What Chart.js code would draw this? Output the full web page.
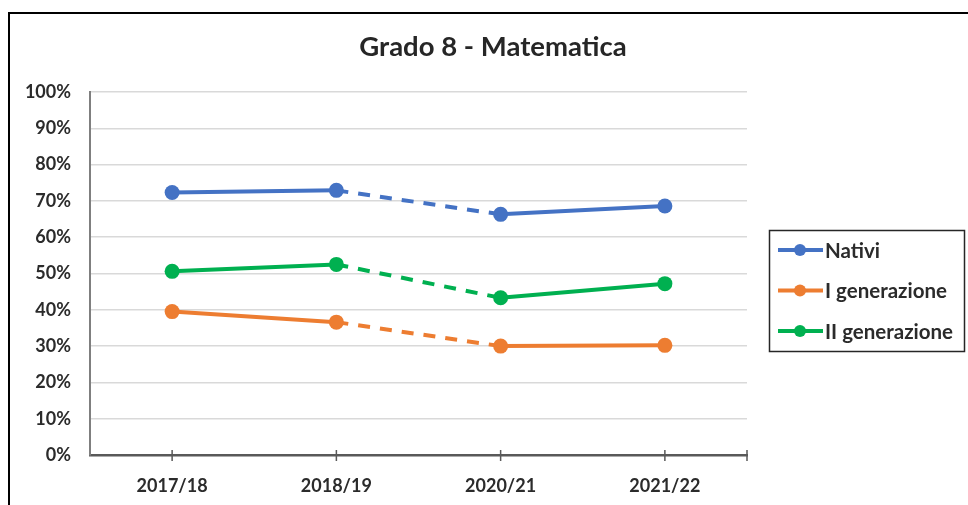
<!DOCTYPE html>
<html>
<head>
<meta charset="utf-8">
<script src="https://cdn.jsdelivr.net/npm/chart.js@4/dist/chart.umd.min.js"></script>
<style>
  body { margin: 0; background: #fff; }
  #wrap { width: 968px; height: 505px; position: relative; }
</style>
</head>
<body>
<div id="wrap"><canvas id="grado-chart"></canvas></div>
<script>
Chart.defaults.font.family = 'Lato, "Liberation Sans", sans-serif';
Chart.defaults.font.weight = 'bold';
Chart.defaults.color = '#333333';

const anni = ['2017/18', '2018/19', '2020/21', '2021/22'];
const nativi = [72.3, 72.9, 66.3, 68.6];
const primaGen = [39.5, 36.6, 30.0, 30.2];
const secondaGen = [50.6, 52.5, 43.3, 47.2];
const yTicks = [0, 10, 20, 30, 40, 50, 60, 70, 80, 90, 100];

// 2019/20 is missing, so the segment after this index is dashed
const gapAfter = 1;

const serie = [
  { label: 'Nativi', data: nativi, color: '#4472C4' },
  { label: 'I generazione', data: primaGen, color: '#ED7D31' },
  { label: 'II generazione', data: secondaGen, color: '#00B050' }
];

// frame around the chart + tick marks crossing the x axis
const framePlugin = {
  id: 'frame',
  afterDraw(chart) {
    const ctx = chart.ctx;
    const area = chart.chartArea;
    const xs = chart.scales.x;
    ctx.save();
    ctx.strokeStyle = '#000';
    ctx.lineWidth = 2;
    ctx.beginPath();
    ctx.moveTo(9, 505);
    ctx.lineTo(9, 13);
    ctx.lineTo(968, 13);
    ctx.stroke();
    ctx.strokeStyle = '#595959';
    ctx.lineWidth = 1.5;
    ctx.beginPath();
    const tickXs = anni.map((_, i) => xs.getPixelForValue(i)).concat([area.right]);
    tickXs.forEach((x) => {
      ctx.moveTo(x, area.bottom - 5);
      ctx.lineTo(x, area.bottom + 6);
    });
    ctx.stroke();
    ctx.restore();
  }
};

// Excel style legend: line + marker, boxed
const legendPlugin = {
  id: 'boxLegend',
  afterDraw(chart) {
    const ctx = chart.ctx;
    ctx.save();
    ctx.strokeStyle = '#262626';
    ctx.lineWidth = 1.5;
    ctx.strokeRect(769.5, 230.5, 195, 121);
    ctx.font = 'bold 20.5px Lato, "Liberation Sans", sans-serif';
    ctx.textBaseline = 'middle';
    ctx.textAlign = 'left';
    chart.data.datasets.forEach((ds, i) => {
      const y = 250 + i * 40.5;
      ctx.strokeStyle = ds.borderColor;
      ctx.lineWidth = 4;
      ctx.beginPath();
      ctx.moveTo(778, y);
      ctx.lineTo(823, y);
      ctx.stroke();
      ctx.fillStyle = ds.borderColor;
      ctx.beginPath();
      ctx.arc(800, y, 6, 0, Math.PI * 2);
      ctx.fill();
      ctx.fillStyle = '#2b2b2b';
      ctx.fillText(ds.label, 825, y + 1);
    });
    ctx.restore();
  }
};

const ctx = document.getElementById('grado-chart').getContext('2d');
const chart = new Chart(ctx, {
  type: 'line',
  data: {
    labels: anni,
    datasets: serie.map((s) => ({
      label: s.label,
      data: s.data,
      borderColor: s.color,
      backgroundColor: s.color,
      pointBackgroundColor: s.color,
      pointBorderColor: s.color,
      borderWidth: 4,
      pointRadius: 7.5,
      pointBorderWidth: 0,
      tension: 0,
      segment: {
        borderDash: (c) => c.p0DataIndex === gapAfter ? [12, 10] : undefined
      }
    }))
  },
  options: {
    responsive: true,
    maintainAspectRatio: false,
    animation: false,
    layout: { padding: { left: 18, right: 0, top: 0, bottom: 0 } },
    plugins: {
      legend: { display: false },
      tooltip: { enabled: false },
      title: {
        display: true,
        text: 'Grado 8 - Matematica',
        color: '#262626',
        font: { size: 27.5, weight: 'bold' },
        padding: { top: 31, bottom: 28 }
      }
    },
    scales: {
      x: {
        offset: true,
        border: { display: true, color: '#595959', width: 2.5 },
        grid: {
          display: true,
          drawOnChartArea: false,
          drawTicks: false
        },
        ticks: { padding: 20, font: { size: 18, weight: 'bold' }, color: '#2b2b2b' },
        afterFit: (s) => { s.height = 50; }
      },
      y: {
        min: 0,
        max: 100,
        afterBuildTicks: (s) => { s.ticks = yTicks.map((v) => ({ value: v })); },
        border: { display: true, color: '#7f7f7f', width: 2 },
        grid: { color: '#d9d9d9', lineWidth: 1.5, drawTicks: false },
        ticks: {
          padding: 19,
          font: { size: 18, weight: 'bold' },
          color: '#2b2b2b',
          callback: (v) => v + '%'
        },
        afterFit: (s) => { s.width = 72; }
      },
      // empty axis on the right: keeps room for the legend box
      spazioLegenda: {
        type: 'linear',
        position: 'right',
        display: true,
        border: { display: false },
        grid: { display: false },
        ticks: { display: false },
        afterFit: (s) => { s.width = 221; }
      }
    }
  },
  plugins: [framePlugin, legendPlugin]
});
</script>
</body>
</html>
